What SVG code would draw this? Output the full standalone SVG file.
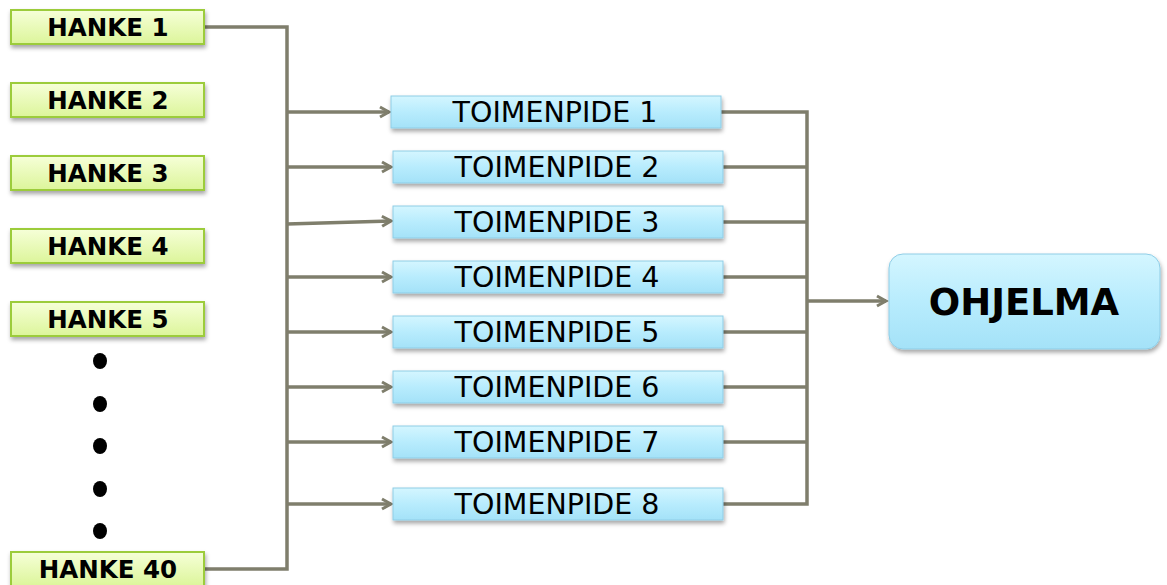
<svg xmlns="http://www.w3.org/2000/svg" width="1167" height="585" viewBox="0 0 1167 585">
<defs>
<linearGradient id="gGreen" x1="0" y1="0" x2="0" y2="1">
<stop offset="0" stop-color="#f6ffd8"/><stop offset="1" stop-color="#dcf59a"/>
</linearGradient>
<linearGradient id="gBlue" x1="0" y1="0" x2="0" y2="1">
<stop offset="0" stop-color="#d4f6ff"/><stop offset="0.5" stop-color="#b8ecfd"/><stop offset="1" stop-color="#a4e2f8"/>
</linearGradient>
<filter id="sh" x="-10%" y="-30%" width="120%" height="170%">
<feDropShadow dx="1" dy="3" stdDeviation="2" flood-color="#000" flood-opacity="0.35"/>
</filter>
<marker id="arr" markerWidth="14" markerHeight="14" refX="11" refY="7" orient="auto" markerUnits="userSpaceOnUse">
<path d="M2,2 L11,7 L2,12" fill="none" stroke="#7f7e6c" stroke-width="3"/>
</marker>
<style>
.h rect{fill:url(#gGreen);stroke:#9ccc3a;stroke-width:2;filter:url(#sh)}
.h text{font-family:"DejaVu Sans",Verdana,sans-serif;font-weight:bold;font-size:24.5px;fill:#000;text-anchor:middle}
.t rect{fill:url(#gBlue);stroke:#8fcde6;stroke-width:1;filter:url(#sh)}
.t text{font-family:"DejaVu Sans",Verdana,sans-serif;font-size:28.5px;fill:#000;text-anchor:middle}
.c path,.c line{fill:none;stroke:#7f7e6c;stroke-width:3.5}
.dot{fill:#000}
</style>
</defs>
<rect width="1167" height="585" fill="#fff"/>

<g id="connectors" class="c">
<path d="M204,27 H287 V569 H204"/>
<line x1="287" y1="112" x2="389" y2="112" marker-end="url(#arr)"/>
<line x1="287" y1="167" x2="391" y2="167" marker-end="url(#arr)"/>
<line x1="287" y1="224" x2="391" y2="221" marker-end="url(#arr)"/>
<line x1="287" y1="277" x2="391" y2="277" marker-end="url(#arr)"/>
<line x1="287" y1="332" x2="391" y2="332" marker-end="url(#arr)"/>
<line x1="287" y1="387" x2="391" y2="387" marker-end="url(#arr)"/>
<line x1="287" y1="442" x2="391" y2="442" marker-end="url(#arr)"/>
<line x1="287" y1="504" x2="391" y2="504" marker-end="url(#arr)"/>
<path d="M721,112 H807 V504 H722"/>
<line x1="722" y1="167" x2="807" y2="167"/>
<line x1="722" y1="222" x2="807" y2="222"/>
<line x1="722" y1="277" x2="807" y2="277"/>
<line x1="722" y1="332" x2="807" y2="332"/>
<line x1="722" y1="387" x2="807" y2="387"/>
<line x1="722" y1="442" x2="807" y2="442"/>
<line x1="807" y1="301" x2="886" y2="301" marker-end="url(#arr)"/>
</g>

<g id="hanke1" class="h"><rect x="11" y="10" width="193" height="34"/><text x="108" y="36">HANKE 1</text></g>
<g id="hanke2" class="h"><rect x="11" y="83" width="193" height="34"/><text x="108" y="109">HANKE 2</text></g>
<g id="hanke3" class="h"><rect x="11" y="156" width="193" height="34"/><text x="108" y="182">HANKE 3</text></g>
<g id="hanke4" class="h"><rect x="11" y="229" width="193" height="34"/><text x="108" y="255">HANKE 4</text></g>
<g id="hanke5" class="h"><rect x="11" y="302" width="193" height="34"/><text x="108" y="328">HANKE 5</text></g>
<g id="hanke40" class="h"><rect x="11" y="552" width="193" height="34"/><text x="108" y="578">HANKE 40</text></g>

<g id="dots">
<ellipse class="dot" cx="100" cy="361" rx="7" ry="8"/>
<ellipse class="dot" cx="100" cy="404" rx="7" ry="8"/>
<ellipse class="dot" cx="100" cy="446" rx="7" ry="8"/>
<ellipse class="dot" cx="100" cy="489" rx="7" ry="8"/>
<ellipse class="dot" cx="100" cy="531" rx="7" ry="8"/>
</g>

<g id="toimenpide1" class="t"><rect x="391" y="96" width="330" height="32"/><text x="555" y="122">TOIMENPIDE 1</text></g>
<g id="toimenpide2" class="t"><rect x="393" y="151" width="330" height="32"/><text x="557" y="177">TOIMENPIDE 2</text></g>
<g id="toimenpide3" class="t"><rect x="393" y="206" width="330" height="32"/><text x="557" y="232">TOIMENPIDE 3</text></g>
<g id="toimenpide4" class="t"><rect x="393" y="261" width="330" height="32"/><text x="557" y="287">TOIMENPIDE 4</text></g>
<g id="toimenpide5" class="t"><rect x="393" y="316" width="330" height="32"/><text x="557" y="342">TOIMENPIDE 5</text></g>
<g id="toimenpide6" class="t"><rect x="393" y="371" width="330" height="32"/><text x="557" y="397">TOIMENPIDE 6</text></g>
<g id="toimenpide7" class="t"><rect x="393" y="426" width="330" height="32"/><text x="557" y="452">TOIMENPIDE 7</text></g>
<g id="toimenpide8" class="t"><rect x="393" y="488" width="330" height="32"/><text x="557" y="514">TOIMENPIDE 8</text></g>

<g id="ohjelma">
<rect x="889" y="254" width="271" height="95" rx="14" fill="url(#gBlue)" stroke="#8fcde6" stroke-width="1" filter="url(#sh)"/>
<text x="1024" y="315" font-family="'DejaVu Sans',Verdana,sans-serif" font-weight="bold" font-size="37" text-anchor="middle" fill="#000">OHJELMA</text>
</g>
</svg>
